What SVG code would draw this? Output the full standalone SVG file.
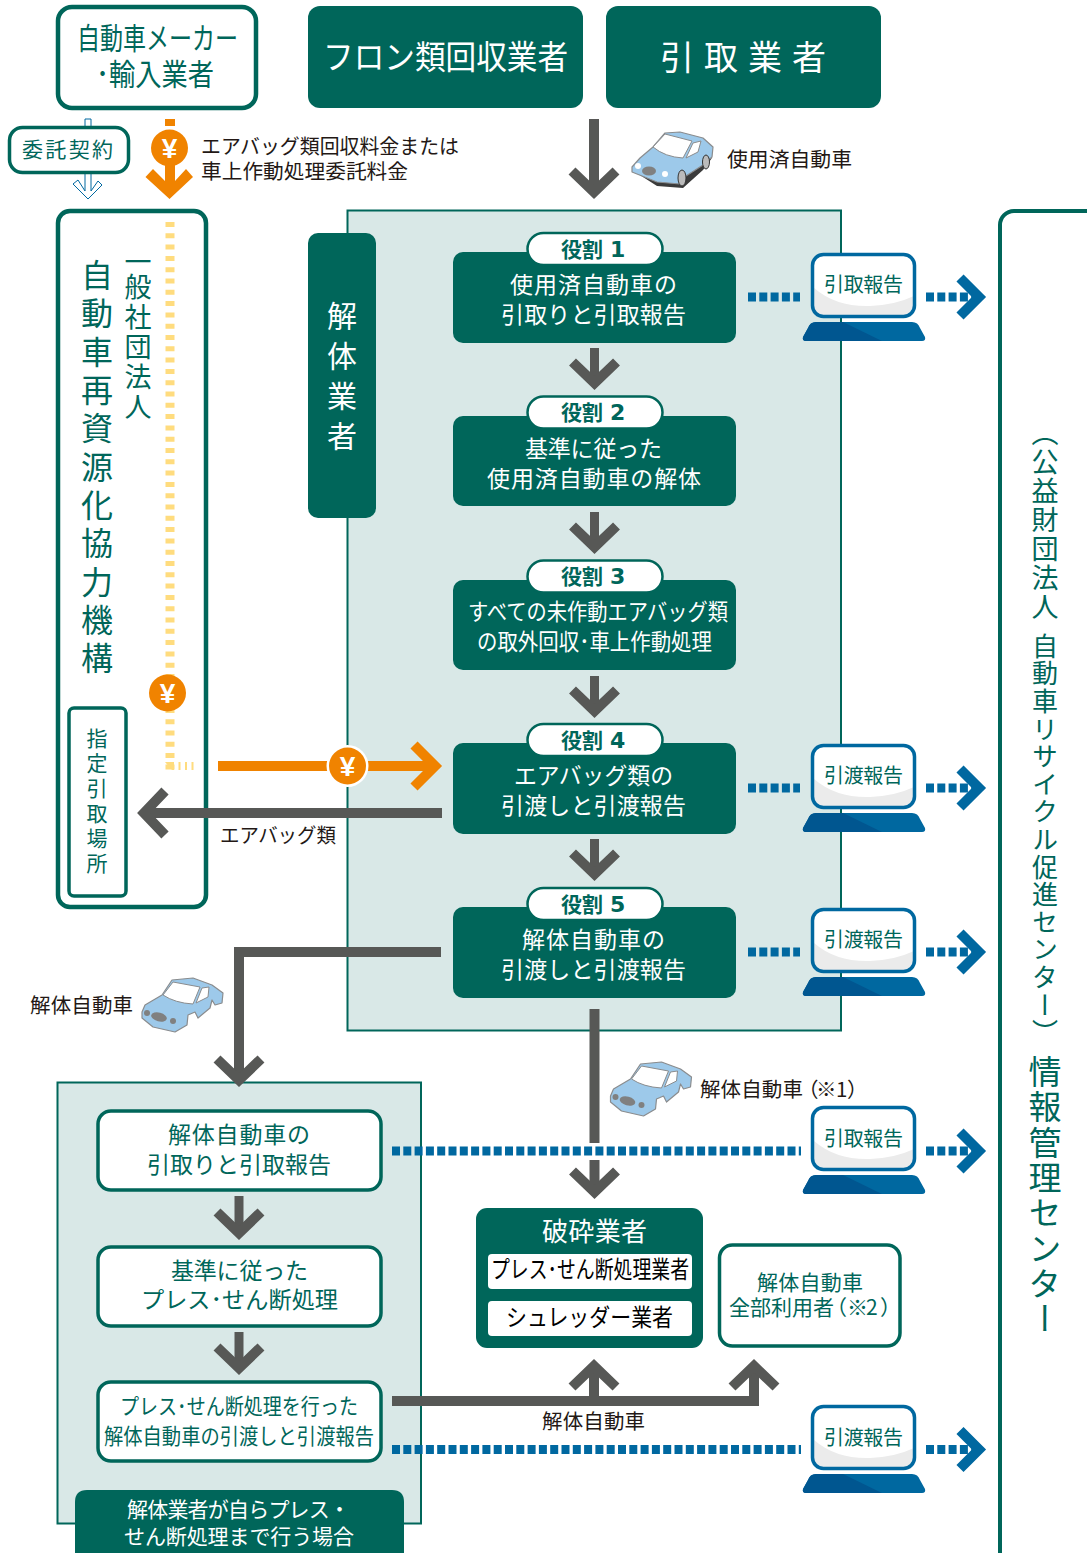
<svg xmlns="http://www.w3.org/2000/svg" xmlns:xlink="http://www.w3.org/1999/xlink" width="1087" height="1553" viewBox="0 0 1087 1553">
<style>
text{font-family:"Noto Sans CJK JP","Noto Sans",sans-serif;font-weight:400}
.w{fill:#fff}.t{fill:#00665a}.k{fill:#231815}.b{fill:#000}
.v{writing-mode:vertical-rl}
.pill{font-weight:700;font-size:21px;fill:#00665a}
.num{font-family:"DejaVu Sans",sans-serif;font-weight:700;font-size:22px}
.yen{font-family:"Liberation Sans",sans-serif;font-weight:700;font-size:28px;fill:#fff;text-anchor:middle}
.panel{fill:#d9e8e7;stroke:#00665a;stroke-width:2}
.fill{fill:#00665a}
.box{fill:#fff;stroke:#00665a;stroke-width:3.5}
.box4{fill:#fff;stroke:#00665a;stroke-width:4.5}
.g{fill:none;stroke:#575856;stroke-width:10;stroke-miterlimit:10}
.g9{fill:none;stroke:#575856;stroke-width:9;stroke-miterlimit:10}
.o{fill:none;stroke:#f08300;stroke-width:10}
.d{fill:none;stroke:#0068a0;stroke-width:9;stroke-dasharray:8 3.3}
.y{fill:none;stroke:#ffdc7e;stroke-width:9;stroke-dasharray:5 6.3}
.coin{fill:#f08300}
.car{fill:#9dc9ea;stroke:#8a8c8e;stroke-width:1.2;stroke-linejoin:round}
.win{fill:#fff;stroke:#8a8c8e;stroke-width:1}
</style>
<defs>
<marker id="mg" markerUnits="userSpaceOnUse" viewBox="-30 -30 40 60" refX="0" refY="0" markerWidth="40" markerHeight="60" orient="auto"><path d="M-21-22L0 0L-21 22" fill="none" stroke="#575856" stroke-width="10" stroke-miterlimit="10"/></marker>
<marker id="mo" markerUnits="userSpaceOnUse" viewBox="-30 -30 40 60" refX="0" refY="0" markerWidth="40" markerHeight="60" orient="auto"><path d="M-21-21L0 0L-21 21" fill="none" stroke="#f08300" stroke-width="10" stroke-miterlimit="10"/></marker>
<marker id="mb" markerUnits="userSpaceOnUse" viewBox="-30 -30 50 60" refX="0" refY="0" markerWidth="50" markerHeight="60" orient="auto"><path d="M-12-19L7 0L-12 19" fill="none" stroke="#0068a0" stroke-width="10" stroke-miterlimit="10"/></marker>
<g id="pc">
<rect x="812.5" y="254.500" width="102" height="62" rx="11" fill="#fff"/>
<path d="M814 288Q836 307 870 306Q895 305 914 296V305Q914 315 904 315H824Q814 315 814 305Z" fill="#ebebeb"/>
<rect x="812.5" y="254.500" width="102" height="62" rx="11" fill="none" stroke="#0068a0" stroke-width="3.5"/>
<path d="M816 322H912Q918 322 920 328L925 337Q926 341 922 341H806Q802 341 803 337L808 328Q810 322 816 322Z" fill="#0068a0"/>
<path d="M816 322H843L882 341H806Q802 341 803 337L808 328Q810 322 816 322Z" fill="#005690"/>
</g>
<g id="wreck">
<path class="car" d="M142 1012L145 1005L162 995L172 980L193 978L212 985L223 993L222 1003L215 1005L212 1000L210 1008L198 1018L195 1012L188 1015L187 1025L175 1032L153 1027L142 1018Z"/>
<path class="win" d="M163 995L173 982L200 987L193 1004Q175 1003 163 995Z"/>
<path class="win" d="M196 1003L202 988L209 987L208 997Z"/>
<circle cx="147" cy="1013" r="3" fill="#808080"/><circle cx="173" cy="1021" r="3" fill="#808080"/><ellipse cx="159" cy="1017" rx="8" ry="4.500" fill="#808080" transform="rotate(15 159 1017)"/>
</g>
<g id="coin"><circle r="18.500" class="coin"/><text class="yen" y="10">¥</text></g>
</defs>
<rect width="1087" height="1553" fill="#fff"/>

<g id="panel-main"><rect class="panel" x="347.500" y="210.500" width="493.500" height="820"/></g>
<g id="panel-press"><rect class="panel" x="57.500" y="1082.500" width="363.500" height="441"/></g>

<g id="node-maker"><rect class="box4" x="58" y="7" width="198" height="101" rx="14"/>
<text class="t" x="77" y="49" font-size="30" textLength="161" lengthAdjust="spacingAndGlyphs">自動車メーカー</text>
<text class="t" x="96" y="85" font-size="30" textLength="118" lengthAdjust="spacingAndGlyphs">･輸入業者</text></g>
<g id="node-freon"><rect class="fill" x="308" y="6" width="275" height="102" rx="12"/>
<text class="w" x="323" y="69" font-size="33" textLength="245" lengthAdjust="spacingAndGlyphs">フロン類回収業者</text></g>
<g id="node-hikitori"><rect class="fill" x="606" y="6" width="275" height="102" rx="12"/>
<text class="w" x="660" y="70" font-size="34" textLength="166">引取業者</text></g>

<g id="node-org"><rect class="box4" x="58" y="211" width="148" height="696" rx="12"/>
<text class="t v" x="138" y="248.500" font-size="27">一</text>
<text class="t v" x="138" y="273.500" font-size="27" letter-spacing="3">般社団法人</text>
<text class="t v" x="97" y="259" font-size="32" letter-spacing="6.300">自動車再資源化協力機構</text></g>
<g id="node-place"><rect class="box" x="69" y="708" width="57" height="188" rx="5"/>
<text class="t v" x="97" y="728" font-size="21" letter-spacing="4">指定引取場所</text></g>

<g id="node-kaitai"><rect class="fill" x="308" y="233" width="68" height="285" rx="10"/>
<text class="w v" x="342" y="301" font-size="30" letter-spacing="10">解体業者</text></g>

<g id="node-center"><rect fill="#fff" stroke="#00665a" stroke-width="4" x="1000" y="211" width="140" height="1400" rx="14"/>
<text class="t v" x="1045" y="419" font-size="27" letter-spacing="2">（公益財団法人</text>
<text class="t v" x="1045" y="633" font-size="26" letter-spacing="1.600">自動車リサイクル促進センター）</text>
<text class="t v" x="1045" y="1055" font-size="33" letter-spacing="2.300">情報管理センター</text></g>

<g id="connectors">
<path d="M85 119H91V191L98 181L102 185L88 199L73 184L78 180L85 191Z" fill="#fff" stroke="#0068a0" stroke-width="1"/>
<path class="y" d="M170 222V770"/>
<path d="M172 766H196" fill="none" stroke="#ffdc7e" stroke-width="8" stroke-dasharray="2 4.500"/>
<path d="M165 762L172 762V770Z" fill="#ffdc7e"/>
<rect x="165" y="119" width="10" height="7" fill="#f08300"/>
<path d="M145.500 177L153 169L165 181V165H175V181L186 169L193 177L169.500 199Z" fill="#f08300"/>
<path class="o" d="M218 766H435" marker-end="url(#mo)"/>
<path class="g" d="M442 813H144" marker-end="url(#mg)"/>
<path class="g" d="M594 119V192" marker-end="url(#mg)"/>
<path class="g9" d="M594.500 348V383" marker-end="url(#mg)"/>
<path class="g9" d="M594.500 512V547" marker-end="url(#mg)"/>
<path class="g9" d="M594.500 676V711" marker-end="url(#mg)"/>
<path class="g9" d="M594.500 839V874" marker-end="url(#mg)"/>
<path class="g" d="M441 952H239V1080" marker-end="url(#mg)"/>
<path class="g" d="M594.500 1009V1143"/>
<path class="g" d="M594.500 1160V1192" marker-end="url(#mg)"/>
<path class="g9" d="M239 1196V1233" marker-end="url(#mg)"/>
<path class="g9" d="M239 1332V1368" marker-end="url(#mg)"/>
<path class="g" d="M392 1401H754V1366" marker-end="url(#mg)"/>
<path class="g" d="M594 1401V1366" marker-end="url(#mg)"/>
<path class="d" d="M748 297H800"/><path class="d" d="M926 297H972" marker-end="url(#mb)"/>
<path class="d" d="M748 788H800"/><path class="d" d="M926 788H972" marker-end="url(#mb)"/>
<path class="d" d="M748 952H800"/><path class="d" d="M926 952H972" marker-end="url(#mb)"/>
<path class="d" d="M392 1151H801"/><path class="d" d="M926 1151H972" marker-end="url(#mb)"/>
<path class="d" d="M392 1449.500H801"/><path class="d" d="M926 1449.500H972" marker-end="url(#mb)"/>
</g>

<g id="node-contract"><rect class="box" x="9.500" y="127.500" width="119" height="45" rx="13"/>
<text class="t" x="22" y="157" font-size="21" textLength="91">委託契約</text></g>

<g id="coin-top"><use xlink:href="#coin" href="#coin" x="169.500" y="148"/></g>
<g id="coin-org"><use xlink:href="#coin" href="#coin" x="167.500" y="693"/></g>
<g id="coin-main"><circle cx="347.500" cy="766" r="21" fill="#fff"/><use xlink:href="#coin" href="#coin" x="347.500" y="766"/></g>

<g id="label-fee" class="k"><text x="201" y="154" font-size="20.500" textLength="258" lengthAdjust="spacingAndGlyphs">エアバッグ類回収料金または</text>
<text x="201" y="179" font-size="20.500" textLength="207" lengthAdjust="spacingAndGlyphs">車上作動処理委託料金</text></g>

<g id="car-used">
<path d="M632 170L657 186L683 188L703 170L712 158L690 165L670 180L640 172Z" fill="#3b3b3b"/>
<path class="car" d="M632 167L640 158L653 147L665 133L680 132L703 138L713 147L712 157L703 165L686 176L680 184L657 182L632 172Z"/>
<path class="win" d="M653 147L665 134L692 141L683 158Q665 157 653 147Z"/>
<path class="win" d="M686 158L693 143L701 141L698 152Z"/>
<circle cx="638" cy="166" r="3" fill="#fff"/><circle cx="665" cy="174" r="3" fill="#fff"/>
<ellipse cx="649" cy="171" rx="7" ry="4.500" fill="#808080"/>
<ellipse cx="682" cy="178" rx="4" ry="8" fill="#bbb" stroke="#333"/>
<ellipse cx="706" cy="162" rx="3.500" ry="7" fill="#bbb" stroke="#333"/>
</g>
<text class="k" x="727" y="166.500" font-size="20.500" textLength="125" lengthAdjust="spacingAndGlyphs">使用済自動車</text>

<g id="role1"><rect class="fill" x="453" y="252" width="283" height="91" rx="10"/>
<rect x="527.500" y="233" width="135" height="32" rx="16" fill="#fff" stroke="#00665a" stroke-width="2.500"/>
<text class="pill" x="561" y="257">役割<tspan class="num" x="610">1</tspan></text>
<text class="w" x="510" y="293" font-size="23" textLength="167">使用済自動車の</text>
<text class="w" x="501" y="323" font-size="23" textLength="185">引取りと引取報告</text></g>
<g id="role2"><rect class="fill" x="453" y="416" width="283" height="90" rx="10"/>
<rect x="527.500" y="396.500" width="135" height="32" rx="16" fill="#fff" stroke="#00665a" stroke-width="2.500"/>
<text class="pill" x="561" y="420">役割<tspan class="num" x="610">2</tspan></text>
<text class="w" x="525" y="457" font-size="23" textLength="137">基準に従った</text>
<text class="w" x="487" y="487" font-size="23" textLength="214">使用済自動車の解体</text></g>
<g id="role3"><rect class="fill" x="453" y="580" width="283" height="90" rx="10"/>
<rect x="527.500" y="560.500" width="135" height="32" rx="16" fill="#fff" stroke="#00665a" stroke-width="2.500"/>
<text class="pill" x="561" y="584">役割<tspan class="num" x="610">3</tspan></text>
<text class="w" x="468" y="620" font-size="22.500" textLength="260" lengthAdjust="spacingAndGlyphs">すべての未作動エアバッグ類</text>
<text class="w" x="477" y="650" font-size="22.500" textLength="235" lengthAdjust="spacingAndGlyphs">の取外回収･車上作動処理</text></g>
<g id="role4"><rect class="fill" x="453" y="743" width="283" height="91" rx="10"/>
<rect x="527.500" y="724" width="135" height="32" rx="16" fill="#fff" stroke="#00665a" stroke-width="2.500"/>
<text class="pill" x="561" y="748">役割<tspan class="num" x="610">4</tspan></text>
<text class="w" x="514" y="784" font-size="23" textLength="159" lengthAdjust="spacingAndGlyphs">エアバッグ類の</text>
<text class="w" x="501" y="814" font-size="23" textLength="185">引渡しと引渡報告</text></g>
<g id="role5"><rect class="fill" x="453" y="907" width="283" height="91" rx="10"/>
<rect x="527.500" y="888" width="135" height="32" rx="16" fill="#fff" stroke="#00665a" stroke-width="2.500"/>
<text class="pill" x="561" y="912">役割<tspan class="num" x="610">5</tspan></text>
<text class="w" x="522" y="948" font-size="23" textLength="143">解体自動車の</text>
<text class="w" x="501" y="978" font-size="23" textLength="185">引渡しと引渡報告</text></g>

<g id="pc1"><use xlink:href="#pc" href="#pc"/><text class="t" x="824" y="292" font-size="20" textLength="79">引取報告</text></g>
<g id="pc2"><use xlink:href="#pc" href="#pc" y="491"/><text class="t" x="824" y="783" font-size="20" textLength="79">引渡報告</text></g>
<g id="pc3"><use xlink:href="#pc" href="#pc" y="655"/><text class="t" x="824" y="947" font-size="20" textLength="79">引渡報告</text></g>
<g id="pc4"><use xlink:href="#pc" href="#pc" y="853"/><text class="t" x="824" y="1146" font-size="20" textLength="79">引取報告</text></g>
<g id="pc5"><use xlink:href="#pc" href="#pc" y="1152"/><text class="t" x="824" y="1445" font-size="20" textLength="79">引渡報告</text></g>

<text class="k" x="220" y="843" font-size="20" textLength="116" lengthAdjust="spacingAndGlyphs">エアバッグ類</text>

<use xlink:href="#wreck" href="#wreck"/>
<text class="k" x="30" y="1013" font-size="20.500" textLength="103">解体自動車</text>
<use xlink:href="#wreck" href="#wreck" x="468.500" y="84"/>
<text class="k" x="700 720.600 741.200 761.800 782.400 798 816 836 847" y="1097" font-size="20.500">解体自動車（※1）</text>
<text class="k" x="542" y="1429" font-size="20.500" textLength="103">解体自動車</text>

<g id="step1"><rect class="box" x="98" y="1111" width="283" height="79" rx="13"/>
<text class="t" x="168" y="1143" font-size="23" textLength="142">解体自動車の</text>
<text class="t" x="147" y="1173" font-size="23" textLength="184">引取りと引取報告</text></g>
<g id="step2"><rect class="box" x="98" y="1247" width="283" height="79" rx="13"/>
<text class="t" x="171" y="1279" font-size="23" textLength="137">基準に従った</text>
<text class="t" x="141" y="1308" font-size="23" textLength="197" lengthAdjust="spacingAndGlyphs">プレス･せん断処理</text></g>
<g id="step3"><rect class="box" x="98" y="1382" width="283" height="79" rx="13"/>
<text class="t" x="120" y="1414" font-size="22" textLength="238" lengthAdjust="spacingAndGlyphs">プレス･せん断処理を行った</text>
<text class="t" x="104" y="1444" font-size="22" textLength="270" lengthAdjust="spacingAndGlyphs">解体自動車の引渡しと引渡報告</text></g>
<g id="note-self"><path class="fill" d="M75 1560V1502Q75 1490 87 1490H392Q404 1490 404 1502V1560Z"/>
<text class="w" x="127" y="1517" font-size="21" textLength="223">解体業者が自らプレス・</text>
<text class="w" x="124" y="1544" font-size="21" textLength="230">せん断処理まで行う場合</text></g>

<g id="node-hasai"><rect class="fill" x="476" y="1208" width="227" height="140" rx="11"/>
<text class="w" x="542" y="1241" font-size="26" textLength="105">破砕業者</text>
<rect x="488" y="1254" width="204" height="35" rx="4" fill="#fff"/>
<text class="b" x="491" y="1278" font-size="24" textLength="198" lengthAdjust="spacingAndGlyphs">プレス･せん断処理業者</text>
<rect x="488" y="1301" width="204" height="35" rx="4" fill="#fff"/>
<text class="b" x="506" y="1326" font-size="24" textLength="167" lengthAdjust="spacingAndGlyphs">シュレッダー業者</text></g>
<g id="node-users"><rect class="box" x="719.500" y="1245" width="180.500" height="101" rx="13"/>
<text class="t" x="757" y="1290" font-size="21" textLength="106">解体自動車</text>
<text class="t" x="729 750 771 792 813 826 847 866 880" y="1315" font-size="21">全部利用者（※2）</text></g>
</svg>
